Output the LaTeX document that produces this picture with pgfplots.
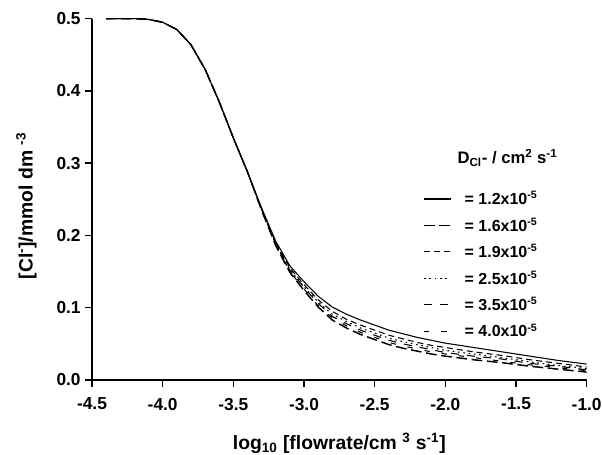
\documentclass[border=0pt]{standalone}
\usepackage{fontspec}
\setmainfont{Liberation Sans}
\usepackage{pgfplots}
\usepackage{pgfplotstable}
\pgfplotsset{compat=1.18}

% x = log10 flowrate; a..f = D = 1.2, 1.6, 1.9, 2.5, 3.5, 4.0 (x1e-5 cm2/s)
\pgfplotstableread{
x     a     b     c     d     e     f
-4.4  0.500 0.500 0.500 0.500 0.500 0.500
-4.3  0.500 0.500 0.500 0.500 0.500 0.500
-4.2  0.500 0.500 0.500 0.500 0.500 0.500
-4.1  0.499 0.499 0.499 0.499 0.499 0.499
-4.0  0.495 0.495 0.495 0.495 0.495 0.495
-3.9  0.485 0.485 0.485 0.485 0.485 0.485
-3.8  0.464 0.464 0.464 0.464 0.464 0.464
-3.7  0.430 0.430 0.430 0.430 0.430 0.430
-3.6  0.385 0.385 0.385 0.385 0.385 0.385
-3.5  0.335 0.335 0.335 0.335 0.335 0.335
-3.4  0.288 0.288 0.288 0.288 0.288 0.288
-3.3  0.238 0.235 0.237 0.236 0.236 0.235
-3.2  0.192 0.186 0.190 0.189 0.188 0.187
-3.1  0.158 0.149 0.155 0.153 0.152 0.150
-3.0  0.136 0.124 0.132 0.129 0.128 0.126
-2.9  0.116 0.101 0.111 0.108 0.106 0.103
-2.8  0.101 0.083 0.095 0.091 0.088 0.086
-2.7  0.091 0.072 0.084 0.081 0.078 0.075
-2.6  0.083 0.063 0.076 0.072 0.069 0.066
-2.5  0.076 0.056 0.069 0.065 0.062 0.059
-2.4  0.069 0.049 0.062 0.058 0.055 0.052
-2.3  0.064 0.044 0.057 0.053 0.050 0.047
-2.2  0.059 0.040 0.052 0.049 0.046 0.043
-2.1  0.055 0.036 0.048 0.045 0.042 0.039
-2.0  0.051 0.033 0.045 0.041 0.038 0.036
-1.8  0.045 0.028 0.039 0.036 0.033 0.031
-1.6  0.039 0.024 0.034 0.031 0.029 0.026
-1.4  0.033 0.019 0.028 0.025 0.023 0.021
-1.2  0.027 0.015 0.023 0.020 0.019 0.017
-1.0  0.022 0.011 0.018 0.016 0.014 0.013
}\data

\begin{document}
\begin{tikzpicture}
\begin{axis}[
  name=ax,
  scale only axis, width=371pt, height=271pt,
  xmin=-4.5, xmax=-1.0, ymin=0, ymax=0.5,
  axis lines=left,
  axis line style={-, line width=1.1pt},
  xtick={-4.5,-4.0,-3.5,-3.0,-2.5,-2.0,-1.5,-1.0},
  ytick={0,0.1,0.2,0.3,0.4,0.5},
  tick align=outside, major tick length=5pt,
  tick style={black, line width=1.1pt},
  /pgf/number format/assume math mode=true,
  /pgf/number format/fixed, /pgf/number format/fixed zerofill,
  /pgf/number format/precision=1,
  ticklabel style={font=\fontsize{13}{15}\selectfont\bfseries},
  xticklabel style={yshift=-5pt},
  label style={font=\fontsize{14.5}{16}\selectfont\bfseries},
  xlabel style={yshift=-10pt},
  ylabel style={yshift=8pt, xshift=-5pt},
  xlabel={log\textsubscript{10} [flowrate/cm \textsuperscript{3} s\textsuperscript{-1}]},
  ylabel={[Cl\textsuperscript{-}]/mmol dm \textsuperscript{-3}},
  legend style={draw=none, fill=none, at={(0.669,0.530)}, anchor=north west,
    inner sep=0pt, row sep=4.5pt, font=\fontsize{12}{13}\selectfont\bfseries,
    /tikz/every odd column/.append style={column sep=8pt}},
  legend cell align=left,
  legend image code/.code={\draw[#1] (0pt,0pt) -- (20pt,0pt);},
  every axis plot/.append style={black, line width=0.8pt},
]
\addplot[solid] table[x=x, y=a] {\data};
\addlegendentry{= 1.2x10\textsuperscript{-5}}
\addplot[line width=1.1pt, dash pattern=on 8pt off 3.5pt] table[x=x, y=b] {\data};
\addlegendentry{= 1.6x10\textsuperscript{-5}}
\addplot[dash pattern=on 4.5pt off 3pt] table[x=x, y=c] {\data};
\addlegendentry{= 1.9x10\textsuperscript{-5}}
\addplot[dash pattern=on 1.2pt off 2.8pt] table[x=x, y=d] {\data};
\addlegendentry{= 2.5x10\textsuperscript{-5}}
\addplot[dash pattern=on 6pt off 6pt] table[x=x, y=e] {\data};
\addlegendentry{= 3.5x10\textsuperscript{-5}}
\addplot[dash pattern=on 4pt off 9pt] table[x=x, y=f] {\data};
\addlegendentry{= 4.0x10\textsuperscript{-5}}
\node[font=\fontsize{12.5}{13}\selectfont\bfseries] at (rel axis cs:0.840,0.615)
  {D\textsubscript{Cl}- / cm\textsuperscript{2} s\textsuperscript{-1}};
\end{axis}
\pgfresetboundingbox
\path (ax.south west) ++(-69pt,-55.5pt) rectangle ++(451.5pt,340.5pt);
\end{tikzpicture}
\end{document}
